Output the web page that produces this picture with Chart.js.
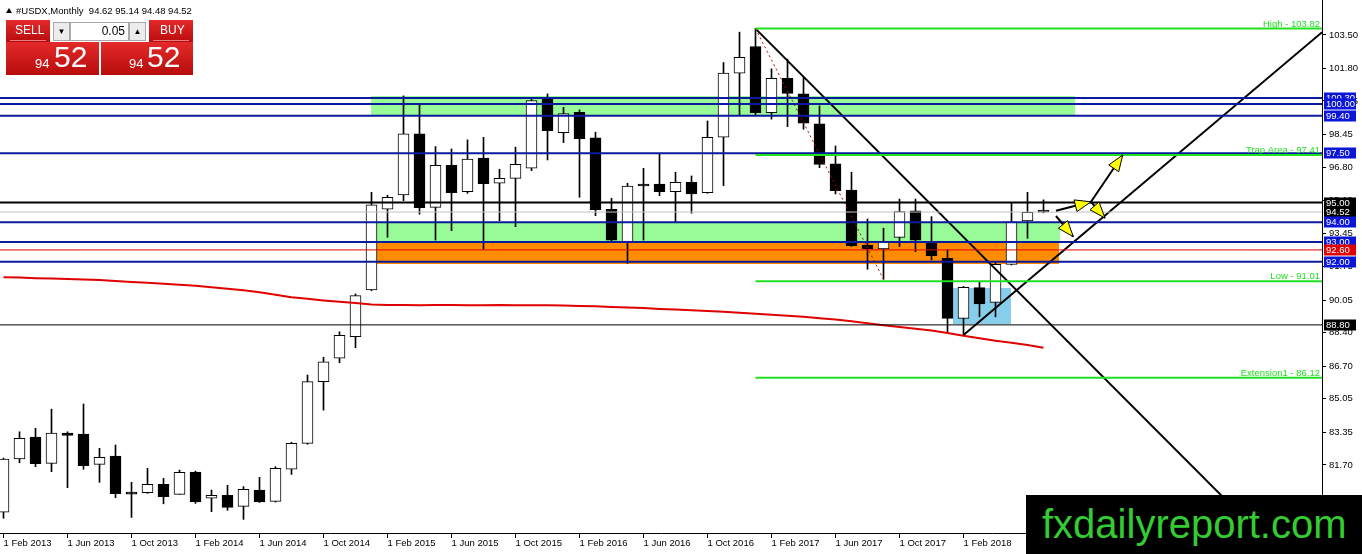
<!DOCTYPE html>
<html><head><meta charset="utf-8">
<script src="https://cdn.jsdelivr.net/npm/chart.js@4.4.0/dist/chart.umd.min.js"></script>
<style>
html,body{margin:0;padding:0;background:#fff;overflow:hidden;}
#wrap{position:relative;width:1362px;height:554px;font-family:'Liberation Sans',Arial,sans-serif;}
#c{position:absolute;left:0;top:0;}
.hdr{position:absolute;left:16px;top:5px;font-size:9.5px;color:#000;white-space:pre;}
.tri{position:absolute;left:6px;top:8px;width:0;height:0;border-left:3px solid transparent;border-right:3px solid transparent;border-bottom:5px solid #000;}
.red{position:absolute;background:linear-gradient(#e42a2a,#b80c0c);color:#fff;}
.hd{font-size:12px;line-height:21px;}
.hd span{position:absolute;bottom:1px;left:4px;right:4px;height:1px;background:rgba(255,200,200,0.6);}
.sm{position:absolute;font-size:13px;top:56px;}
.lg{position:absolute;font-size:30px;top:40px;}
.spin{position:absolute;background:#ececec;border:1px solid #a8a8a8;box-sizing:border-box;font-size:8px;text-align:center;line-height:17px;color:#000;}
.inp{position:absolute;background:#fff;border:1px solid #a8a8a8;box-sizing:border-box;font-size:12px;text-align:right;padding-right:3px;line-height:17px;color:#000;}
#wm{position:absolute;left:1026px;top:495px;width:336px;height:59px;background:#000;color:#33cc33;font-size:40px;line-height:59px;padding-left:16px;box-sizing:border-box;white-space:nowrap;}
</style></head>
<body>
<div id="wrap">
<canvas id="c" width="1362" height="554"></canvas>
<div class="tri"></div>
<div class="hdr">#USDX,Monthly  94.62 95.14 94.48 94.52</div>
<div class="red hd" style="left:6px;top:20px;width:44px;height:22px;"><b style="font-weight:normal;position:absolute;left:9px;">SELL</b><span></span></div>
<div class="spin" style="left:53px;top:22px;width:17px;height:19px;">&#9660;</div>
<div class="inp" style="left:70px;top:22px;width:59px;height:19px;">0.05</div>
<div class="spin" style="left:129px;top:22px;width:17px;height:19px;">&#9650;</div>
<div class="red hd" style="left:149px;top:20px;width:44px;height:22px;"><b style="font-weight:normal;position:absolute;left:11px;">BUY</b><span></span></div>
<div class="red" style="left:6px;top:42px;width:93px;height:33px;"></div>
<div class="red" style="left:101px;top:42px;width:92px;height:33px;"></div>
<div class="sm" style="left:35px;color:#fff;">94</div>
<div class="lg" style="left:54px;color:#fff;">52</div>
<div class="sm" style="left:129px;color:#fff;">94</div>
<div class="lg" style="left:147px;color:#fff;">52</div>
<div id="wm">fxdailyreport.com</div>
</div>
<script>
// ---- data ----
const months = ["Feb 2013","Mar 2013","Apr 2013","May 2013","Jun 2013","Jul 2013","Aug 2013","Sep 2013","Oct 2013","Nov 2013","Dec 2013",
"Jan 2014","Feb 2014","Mar 2014","Apr 2014","May 2014","Jun 2014","Jul 2014","Aug 2014","Sep 2014","Oct 2014","Nov 2014","Dec 2014",
"Jan 2015","Feb 2015","Mar 2015","Apr 2015","May 2015","Jun 2015","Jul 2015","Aug 2015","Sep 2015","Oct 2015","Nov 2015","Dec 2015",
"Jan 2016","Feb 2016","Mar 2016","Apr 2016","May 2016","Jun 2016","Jul 2016","Aug 2016","Sep 2016","Oct 2016","Nov 2016","Dec 2016",
"Jan 2017","Feb 2017","Mar 2017","Apr 2017","May 2017","Jun 2017","Jul 2017","Aug 2017","Sep 2017","Oct 2017","Nov 2017","Dec 2017",
"Jan 2018","Feb 2018","Mar 2018","Apr 2018","May 2018","Jun 2018","Jul 2018"];
const opens = [79.31,82.01,83.11,81.78,83.32,83.27,81.73,82.15,80.30,80.29,80.72,
80.21,81.34,80.01,80.16,79.60,80.43,79.85,81.48,82.79,85.92,87.11,88.20,
90.57,94.66,95.39,98.48,94.76,96.89,95.55,97.25,95.98,96.23,96.74,100.27,
98.55,99.58,98.28,94.66,93.02,95.90,95.94,95.55,96.03,95.50,98.31,101.56,
102.91,99.56,101.30,100.51,98.99,96.96,95.64,92.85,92.65,93.24,94.58,93.02,
92.18,89.13,90.69,89.94,91.87,94.07,94.62];
const highs = [82.05,83.38,83.56,84.53,83.38,84.79,82.54,82.71,80.82,81.53,81.02,
81.44,81.39,80.43,80.67,80.60,81.07,81.61,82.85,86.26,87.16,88.45,90.37,
95.52,95.37,100.41,100.00,97.84,97.72,98.18,98.31,96.69,97.81,100.29,100.51,
99.83,99.70,98.57,95.22,95.98,96.74,97.50,96.54,96.35,99.14,102.10,103.64,
103.82,101.78,102.27,101.33,99.90,97.87,96.54,94.17,93.70,95.18,95.18,94.29,
92.60,90.75,90.99,92.00,95.00,95.52,95.14];
const lows = [79.00,81.81,81.61,81.36,80.55,81.48,80.82,80.04,79.04,80.26,79.73,
80.21,79.75,79.33,79.40,78.94,79.80,79.82,81.22,82.75,84.48,86.88,87.64,
90.53,93.24,95.10,94.41,93.10,93.58,95.47,92.63,94.08,93.78,96.62,97.16,
98.04,95.27,94.34,93.05,91.92,93.10,95.35,94.03,94.46,95.47,95.86,99.44,
99.44,99.23,98.85,98.72,96.77,95.44,92.77,91.62,91.11,92.77,92.51,92.09,
88.45,88.29,89.21,89.21,91.84,93.19,94.48];
const closes = [82.00,83.05,81.76,83.32,83.20,81.66,82.09,80.24,80.22,80.72,80.09,
81.32,79.83,80.16,79.55,80.46,79.83,81.53,82.79,85.92,86.93,88.27,90.28,
94.88,95.27,98.48,94.74,96.89,95.50,97.20,95.96,96.23,96.94,100.17,98.65,
99.51,98.24,94.64,93.10,95.84,95.84,95.55,96.03,95.44,98.31,101.56,102.37,
99.56,101.30,100.54,99.02,96.94,95.60,92.82,92.65,93.02,94.54,93.10,92.31,
89.13,90.71,89.86,91.87,94.03,94.51,94.52];
const movingAvg = [91.22,91.20,91.17,91.15,91.13,91.10,91.08,91.03,90.98,90.93,90.88,90.83,90.79,90.71,90.63,90.55,90.45,90.33,90.20,90.12,90.04,89.97,89.91,89.83,
89.81,89.81,89.80,89.81,89.81,89.80,89.80,89.81,89.80,89.80,
89.80,89.78,89.76,89.74,89.71,89.68,89.65,89.61,89.58,89.54,89.51,89.46,89.41,89.36,89.31,89.26,89.21,89.14,89.07,88.98,88.88,88.78,88.69,88.60,88.51,88.39,88.25,88.12,88.00,87.90,87.78,87.64];
const xTickIndex = [0,4,8,12,16,20,24,28,32,36,40,44,48,52,56,60];
const xTickLabels = ["1 Feb 2013","1 Jun 2013","1 Oct 2013","1 Feb 2014","1 Jun 2014","1 Oct 2014","1 Feb 2015","1 Jun 2015","1 Oct 2015","1 Feb 2016","1 Jun 2016","1 Oct 2016","1 Feb 2017","1 Jun 2017","1 Oct 2017","1 Feb 2018"];
const yTickValues = [103.50,101.80,100.15,98.45,96.80,95.10,93.45,91.75,90.05,88.40,86.70,85.05,83.35,81.70,80.00];
const blueLevels = [100.30,100.00,99.40,97.50,94.00,93.00,92.00];
const blackLevel = 95.00;
const bidLevel = 94.52;
const redLevel = 92.60;
const supportLevel = 88.80;
const fibNames = ["High","Trap Area","Low","Extension1"];
const fibLevels = [103.82,97.41,91.01,86.12];
const fibStartIndex = 47;
// zones: [startIndex, endIndex, topPrice, bottomPrice]
const zoneUpperGreen = [22.97,66.97,100.40,99.40];
const zoneLowerGreen = [23.35,66.00,94.00,93.00];
const zoneOrange = [23.35,65.97,93.00,91.90];
const zoneBlue = [59.34,62.97,90.69,88.84];
// trend lines: [[i0,p0],[i1,p1]]
const trendDown = [[47,103.82],[79,77.81]];
const trendUp = [[60,88.29],[82.41,103.64]];
const fibDiag = [[47,103.82],[55,91.11]];
const arrowFrom = [[65.78,94.59],[67.97,95.04],[67.97,95.04],[65.78,94.32]];
const arrowTo = [[67.97,95.04],[69.95,97.41],[68.84,94.22],[66.86,93.27]];

// ---- build ----
const X_MIN = -0.21875, X_MAX = 82.40625, Y_MIN = 78.25, Y_MAX = 105.27;
const BLUE_LINE = '#0a1a9c', BLUE_BOX = '#0b16d8', GREEN = '#22e022';
const F = "'Liberation Sans', Arial, sans-serif";

const wickData = months.map((m,i)=>({x:i, y:[lows[i], highs[i]]}));
const bodyData = months.map((m,i)=>({x:i, y:[Math.min(opens[i],closes[i]), Math.max(opens[i],closes[i])]}));
const bodyColors = months.map((m,i)=> closes[i] >= opens[i] ? '#ffffff' : '#000000');

function hline(p, color, w, x0){ return {type:'line', data:[{x:(x0===undefined?-2:x0),y:p},{x:90,y:p}], borderColor:color, borderWidth:w, pointRadius:0, order:1, parsing:false}; }
function seg(pts, color, w, dash){ return {type:'line', data:pts.map(p=>({x:p[0],y:p[1]})), borderColor:color, borderWidth:w, borderDash:dash||[], pointRadius:0, order:1, parsing:false}; }

const datasets = [
  {type:'bar', data:wickData, backgroundColor:'#000', borderWidth:0, barThickness:1, grouped:false, order:6},
  {type:'bar', data:bodyData, backgroundColor:bodyColors, borderColor:'#000', borderWidth:1, borderSkipped:false, barThickness:11, minBarLength:2, grouped:false, order:5},
  {type:'line', data:movingAvg.map((v,i)=>({x:i,y:v})), borderColor:'#e00000', borderWidth:2, pointRadius:0, order:2, parsing:false},
  hline(bidLevel,'#c0c0c0',1),
  hline(supportLevel,'#000',1),
  hline(redLevel,'#e00000',1),
];
fibLevels.forEach(p=>datasets.push(hline(p, GREEN, 2, fibStartIndex)));
blueLevels.forEach(p=>datasets.push(hline(p, BLUE_LINE, 2)));
datasets.push(hline(blackLevel,'#000',2));
datasets.push(seg(fibDiag,'#c00000',1,[2,3]));
datasets.push(seg(trendDown,'#000',2));
datasets.push(seg(trendUp,'#000',2));

const zonePlugin = {
  id:'zones',
  beforeDatasetsDraw(chart){
    const {ctx, scales:{x,y}, chartArea:a} = chart;
    ctx.save(); ctx.beginPath(); ctx.rect(a.left,a.top,a.right-a.left,a.bottom-a.top); ctx.clip();
    [[zoneUpperGreen,'#98fb98'],[zoneLowerGreen,'#98fb98'],[zoneOrange,'#ff8c00'],[zoneBlue,'#87ceeb']].forEach(([z,c])=>{
      const x0=Math.round(x.getPixelForValue(z[0])), x1=Math.round(x.getPixelForValue(z[1]));
      const y0=Math.round(y.getPixelForValue(z[2])), y1=Math.round(y.getPixelForValue(z[3]));
      ctx.fillStyle=c; ctx.fillRect(x0,y0,x1-x0,y1-y0);
    });
    ctx.restore();
  }
};
const overlayPlugin = {
  id:'overlay',
  afterDatasetsDraw(chart){
    const {ctx, scales:{x,y}, chartArea:a} = chart;
    ctx.save();
    arrowFrom.forEach((f,k)=>{
      const t = arrowTo[k];
      const x0=x.getPixelForValue(f[0]), y0=y.getPixelForValue(f[1]);
      const x1=x.getPixelForValue(t[0]), y1=y.getPixelForValue(t[1]);
      ctx.strokeStyle='#000'; ctx.lineWidth=2;
      ctx.beginPath(); ctx.moveTo(x0,y0); ctx.lineTo(x1,y1); ctx.stroke();
      const ang=Math.atan2(y1-y0,x1-x0), L=16, W=6;
      const bx=x1-L*Math.cos(ang), by=y1-L*Math.sin(ang);
      ctx.beginPath(); ctx.moveTo(x1,y1);
      ctx.lineTo(bx+W*Math.sin(ang), by-W*Math.cos(ang));
      ctx.lineTo(bx-W*Math.sin(ang), by+W*Math.cos(ang));
      ctx.closePath(); ctx.fillStyle='#ffff00'; ctx.fill(); ctx.lineWidth=1; ctx.strokeStyle='#000'; ctx.stroke();
    });
    ctx.font = '9.5px ' + F; ctx.fillStyle = GREEN; ctx.textAlign='right'; ctx.textBaseline='alphabetic';
    fibLevels.forEach((p,k)=>{
      ctx.fillText(fibNames[k] + ' - ' + p.toFixed(2), a.right-2, y.getPixelForValue(p)-2);
    });
    ctx.restore();
  },
  afterDraw(chart){
    const {ctx, scales:{y}, chartArea:a} = chart;
    ctx.save();
    ctx.font = '9.5px ' + F; ctx.textAlign='left'; ctx.textBaseline='middle';
    const boxes = [
      [blueLevels[0],BLUE_BOX],[blueLevels[1],BLUE_BOX],[blueLevels[2],BLUE_BOX],[blueLevels[3],BLUE_BOX],
      [blackLevel,'#000'],[bidLevel,'#000'],[blueLevels[4],BLUE_BOX],[blueLevels[5],BLUE_BOX],
      [redLevel,'#e00000'],[blueLevels[6],BLUE_BOX],[supportLevel,'#000']
    ];
    boxes.forEach(([p,c])=>{
      const yy = Math.round(y.getPixelForValue(p));
      ctx.fillStyle=c; ctx.fillRect(a.right+2, yy-5.5, 32, 11);
      ctx.fillStyle='#fff'; ctx.fillText(p.toFixed(2), a.right+4, yy+0.5);
    });
    ctx.restore();
  }
};

new Chart(document.getElementById('c'), {
  type:'bar',
  data:{datasets},
  plugins:[zonePlugin, overlayPlugin],
  options:{
    responsive:false, animation:false, devicePixelRatio:1,
    layout:{padding:0},
    plugins:{legend:{display:false}, tooltip:{enabled:false}},
    scales:{
      x:{type:'linear', min:X_MIN, max:X_MAX, offset:false,
        grid:{offset:false, drawOnChartArea:false, drawTicks:true, tickLength:5, color:'#000'},
        border:{display:true, color:'#000', width:1},
        afterBuildTicks(s){ s.ticks = xTickIndex.map(v=>({value:v})); },
        afterFit(s){ s.height = 21; s.paddingLeft=0; s.paddingRight=0; },
        ticks:{autoSkip:false, maxRotation:0, minRotation:0, align:'start', padding:0, color:'#000', font:{family:F, size:9.5},
          callback(v){ const k = xTickIndex.indexOf(v); return k>=0 ? xTickLabels[k] : ''; }}
      },
      y:{type:'linear', position:'right', min:Y_MIN, max:Y_MAX,
        grid:{drawOnChartArea:false, drawTicks:true, tickLength:4, color:'#000'},
        border:{display:true, color:'#000', width:1},
        afterBuildTicks(s){ s.ticks = yTickValues.map(v=>({value:v})); },
        afterFit(s){ s.width = 40; s.paddingTop=0; s.paddingBottom=0; },
        ticks:{autoSkip:false, padding:3, color:'#000', font:{family:F, size:9.5},
          callback(v){ return Number(v).toFixed(2); }}
      }
    }
  }
});
</script>
</body></html>
